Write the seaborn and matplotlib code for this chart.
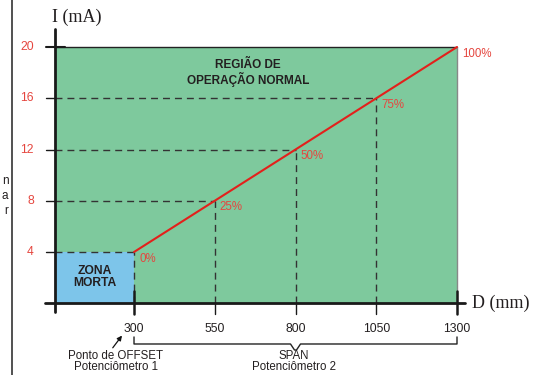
import numpy as np
import pandas as pd
from matplotlib import pyplot as plt
import seaborn as sns

# data
dist_mm = [300, 550, 800, 1050, 1300]
current_ma = [4, 8, 12, 16, 20]
pct_labels = ['0%', '25%', '50%', '75%', '100%']
y_ticks = [4, 8, 12, 16, 20]
x_ticks = [300, 550, 800, 1050, 1300]
d_min = 55

green = '#7ec99d'
blue = '#7dc5ea'
red = '#e3201b'
red_txt = '#e5463f'
dark = '#231f20'

sns.set_style('white')
plt.rcParams['font.family'] = ['Liberation Sans', 'DejaVu Sans']

fig = plt.figure(figsize=(5.33, 3.75), dpi=100)
ax = fig.add_axes([0, 0, 1, 1])
ax.set_xlim(-114.9, 1535.3)
ax.set_ylim(-5.6, 23.67)
ax.axis('off')

px = 3.096   # mm per pixel
py = 0.07805 # mA per pixel

# regions
ax.fill_between([d_min, dist_mm[-1]], 0, current_ma[-1], color=green, lw=0, zorder=1)
ax.fill_between([d_min, dist_mm[0]], 0, current_ma[0], color=blue, lw=0, zorder=1)
ax.plot([d_min, dist_mm[-1]], [20, 20], color='#222222', lw=1, zorder=2)
ax.plot([dist_mm[-1], dist_mm[-1]], [0, 20], color='#888888', lw=1, zorder=2)

# dashed guides
for d, i in zip(dist_mm[:-1], current_ma[:-1]):
    ax.plot([d_min, d], [i, i], color='#333333', lw=1, dashes=(5, 3.6), zorder=3)
    ax.plot([d, d], [0, i], color='#333333', lw=1, dashes=(5, 3.6), zorder=3)

# red line
df = pd.DataFrame({'D': dist_mm, 'I': current_ma})
sns.lineplot(data=df, x='D', y='I', color=red, lw=1.5, ax=ax, zorder=5)

for d, i, lab in zip(dist_mm, current_ma, pct_labels):
    ax.text(d + 5 * px, i - 6.5 * py, lab, color=red_txt, fontsize=8.3, va='center', ha='left', zorder=6)

# axes lines
ax.plot([d_min, d_min], [-9 * py, 20 + 18 * py], color='#1a1a1a', lw=2, zorder=6)
ax.plot([d_min - 10 * px, dist_mm[-1] + 8 * px], [0, 0], color='#1a1a1a', lw=2, zorder=6)

for t in y_ticks:
    right = d_min + 10 * px if t == 20 else d_min
    ax.plot([d_min - 9 * px, right], [t, t], color='#1a1a1a', lw=1.5 if t == 20 else 1, zorder=6)
    ax.text(d_min - 21 * px, t, str(t), color=red_txt, fontsize=8.7, ha='right', va='center')

for t in x_ticks:
    top = 12 * py if t in (300, 1300) else 0
    ax.plot([t, t], [-11 * py, top], color='#1a1a1a', lw=1.8 if t in (300, 1300) else 1, zorder=6)
    ax.text(t, -26 * py, str(t), color=dark, fontsize=8.7, ha='center', va='center')

ax.text(d_min - 3 * px, 22.3, 'I (mA)', family='Liberation Serif', fontsize=13, color=dark,
        ha='left', va='center')
ax.text(dist_mm[-1] + 15 * px, 0, 'D (mm)', family='Liberation Serif', fontsize=13, color=dark,
        ha='left', va='center')

# region labels
ax.text(248 * px - 114.9, 23.67 - 73 * py, 'REGIÃO DE\nOPERAÇÃO NORMAL', fontsize=8.5,
        fontweight='bold', color=dark, ha='center', va='center', linespacing=1.1)
ax.text((d_min + 300) / 2, 2.05, 'ZONA\nMORTA', fontsize=8.7, fontweight='bold', color=dark,
        ha='center', va='center', linespacing=1.1)

# span bracket
mid = (300 + 1300) / 2
yb = -3.18
ax.plot([300, 300, mid - 5 * px, mid - 1 * px, mid + 1 * px, mid + 5 * px, 1300, 1300],
        [-2.63, yb, yb, yb - 6 * py, yb - 6 * py, yb, yb, -2.63], color='#222222', lw=1)
ax.text(mid - 2 * px, -4.1, 'SPAN', fontsize=8.3, color=dark, ha='center', va='center')
ax.text(mid - 2 * px, -5.0, 'Potenciômetro 2', fontsize=8.3, color=dark, ha='center', va='center')

# offset arrow
ax.annotate('', xy=(268, -2.35), xytext=(229, -3.65),
            arrowprops=dict(arrowstyle='-|>', color='#111111', lw=0.9, mutation_scale=7))
ax.text(244, -4.1, 'Ponto de OFFSET', fontsize=8.3, color=dark, ha='center', va='center')
ax.text(244, -5.0, 'Potenciômetro 1', fontsize=8.3, color=dark, ha='center', va='center')

# clipped left panel
ax.plot([-77.7, -77.7], [-5.6, 23.67], color='#333333', lw=1.2)
ax.text(-89, 8.37, 'n\na\nr', fontsize=8.5, color=dark, ha='right', va='center', linespacing=1.35)

fig.savefig('out.png', dpi=100)
